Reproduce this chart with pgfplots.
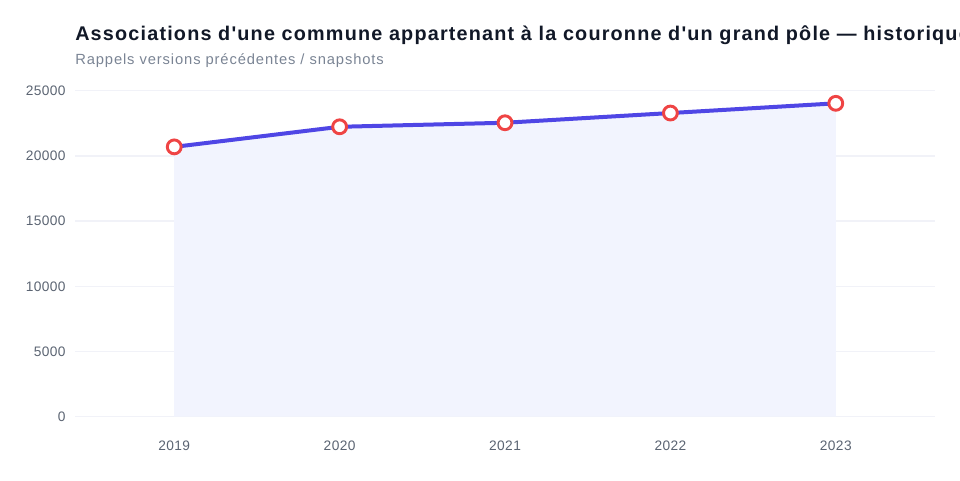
\documentclass[border=0pt]{standalone}
\usepackage{fontspec}
\setmainfont{Liberation Sans}[Ligatures=TeXOff]
\newfontfamily\titlefont{Liberation Sans}[Ligatures=TeXOff, LetterSpace=6]
\newfontfamily\subfont{Liberation Sans}[Ligatures=TeXOff, LetterSpace=6]
\newfontfamily\tickfont{Liberation Sans}[Ligatures=TeXOff, LetterSpace=3]
\usepackage{pgfplots}
\pgfplotsset{compat=1.18}
\definecolor{linec}{HTML}{4F46E5}
\definecolor{markc}{HTML}{EF4444}
\definecolor{areac}{HTML}{F2F4FE}
\definecolor{gridc}{HTML}{F1F2F8}
\definecolor{tickc}{HTML}{5B6472}
\definecolor{titlec}{HTML}{111827}
\definecolor{subc}{HTML}{7A8494}
\begin{document}
\begin{tikzpicture}
\useasboundingbox (0,0) rectangle (720pt,-360pt);
\node[anchor=base west, inner sep=0pt, text=titlec, font=\titlefont\fontsize{14.85pt}{17pt}\selectfont\bfseries] at (56.25pt,-30pt) {Associations d'une commune appartenant à la couronne d'un grand pôle — historique};
\node[anchor=base west, inner sep=0pt, text=subc, font=\subfont\fontsize{11.05pt}{13pt}\selectfont] at (56.25pt,-48.5pt) {Rappels versions précédentes / snapshots};
\begin{axis}[
  at={(56.25pt,-312.5pt)}, anchor=south west,
  scale only axis, width=645pt, height=244.5pt,
  xmin=2018.4, xmax=2023.6, ymin=0, ymax=25000,
  xtick={2019,2020,2021,2022,2023},
  ytick={0,5000,10000,15000,20000,25000},
  xticklabels={2019,2020,2021,2022,2023},
  scaled y ticks=false,
  /pgf/number format/assume math mode=true,
  yticklabel={\pgfmathprintnumber[fixed,1000 sep={}]{\tick}},
  axis line style={draw=none},
  major tick length=0pt,
  ymajorgrids, grid style={gridc, line width=1pt},
  tick label style={text=tickc, font=\tickfont\fontsize{10.3pt}{12pt}\selectfont},
  yticklabel style={xshift=-3.5pt},
  xticklabel style={yshift=-15pt},
  clip=false,
]
\addplot[fill=areac, draw=none, forget plot] coordinates {(2019,20690) (2020,22230) (2021,22540) (2022,23285) (2023,24030)} \closedcycle;
\addplot[linec, line width=3pt, mark=*, mark size=5.2pt, mark options={draw=markc, fill=white, line width=2.2pt}] coordinates {(2019,20690) (2020,22230) (2021,22540) (2022,23285) (2023,24030)};
\end{axis}
\end{tikzpicture}
\end{document}
